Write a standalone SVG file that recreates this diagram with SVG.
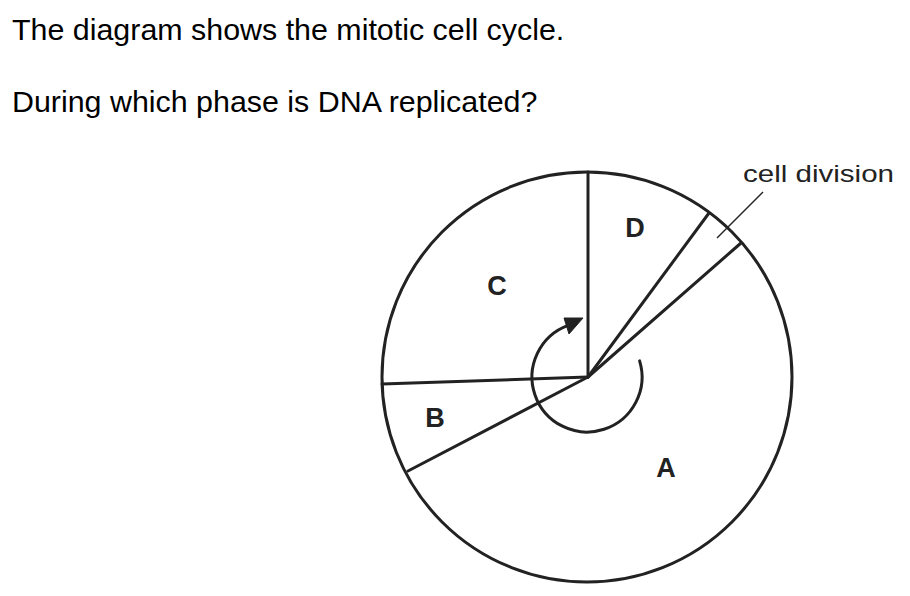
<svg xmlns="http://www.w3.org/2000/svg" width="910" height="596" viewBox="0 0 910 596">
<style>
.q{font-family:"Liberation Sans",Arial,sans-serif;font-size:30.4px;fill:#000}
.lbl{font-family:"Liberation Sans",Arial,sans-serif;font-size:27px;font-weight:bold;fill:#222;text-anchor:middle}
.ln{stroke:#222;stroke-width:3;fill:none;stroke-linecap:round}
.thin{stroke:#222;stroke-width:1.5;fill:none}
</style>
<rect width="910" height="596" fill="#fff"/>
<text class="q" x="12" y="40">The diagram shows the mitotic cell cycle.</text>
<text class="q" x="12" y="112">During which phase is DNA replicated?</text>
<g id="cycle">
<circle class="ln" cx="587" cy="377" r="205"/>
</g>
<g id="connectors">
<line class="ln" x1="588" y1="377" x2="588" y2="172"/>
<line class="ln" x1="588" y1="377" x2="709" y2="213"/>
<line class="ln" x1="588" y1="377" x2="741" y2="243"/>
<line class="ln" x1="588" y1="377" x2="382" y2="384"/>
<line class="ln" x1="588" y1="377" x2="408" y2="471"/>
<line class="thin" x1="717" y1="238" x2="763" y2="192"/>
<path class="ln" d="M639.6 360.9 A55 55 0 1 1 568.2 325.3"/>
<polygon points="583,318 564,318 569,334" fill="#222" stroke="#222" stroke-width="1"/>
</g>
<g id="label-A"><text class="lbl" x="666" y="477">A</text></g>
<g id="label-B"><text class="lbl" x="435" y="427">B</text></g>
<g id="label-C"><text class="lbl" x="497" y="295">C</text></g>
<g id="label-D"><text class="lbl" x="635" y="237">D</text></g>
<g id="label-cell-division"><text x="743" y="182" font-family="Liberation Sans, Arial, sans-serif" font-size="24" textLength="151" lengthAdjust="spacingAndGlyphs" fill="#222">cell division</text></g>
</svg>
